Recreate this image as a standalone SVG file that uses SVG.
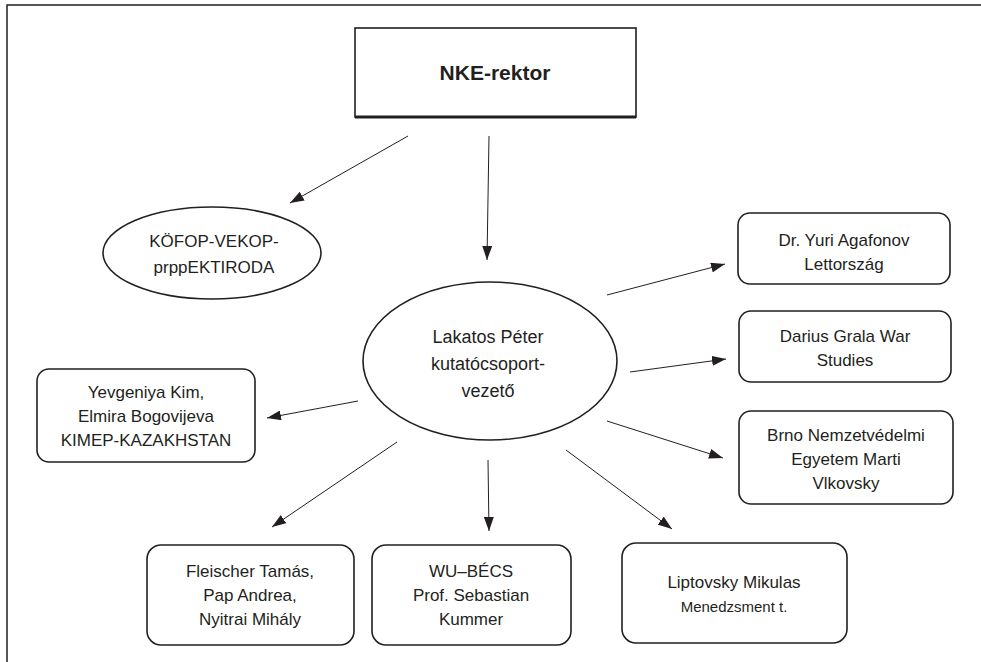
<svg xmlns="http://www.w3.org/2000/svg" width="981" height="662" viewBox="0 0 981 662">
<defs>
<style>
.box{fill:#fff;stroke:#231f20;stroke-width:1.6}
.t{font-family:"Liberation Sans",Arial,sans-serif;font-size:17px;fill:#231f20;text-anchor:middle}
.c{stroke:#231f20;stroke-width:1;fill:none;marker-end:url(#ah)}
</style>
<marker id="ah" markerUnits="userSpaceOnUse" markerWidth="14" markerHeight="10" refX="14" refY="5" orient="auto" viewBox="0 0 14 10">
<path d="M0,0 L14,5 L0,10 z" fill="#231f20"/>
</marker>
</defs>
<rect width="981" height="662" fill="#fff"/>
<path d="M7,662 V5 H981" fill="none" stroke="#231f20" stroke-width="1.5"/>

<g id="connectors">
<line class="c" x1="408" y1="136" x2="290" y2="203"/>
<line class="c" x1="489" y1="136" x2="487" y2="260"/>
<line class="c" x1="607" y1="295" x2="725" y2="264"/>
<line class="c" x1="630" y1="372" x2="726" y2="359"/>
<line class="c" x1="607" y1="421" x2="723" y2="458"/>
<line class="c" x1="358" y1="401" x2="267" y2="418"/>
<line class="c" x1="397" y1="442" x2="272" y2="527"/>
<line class="c" x1="488" y1="460" x2="489" y2="531"/>
<line class="c" x1="566" y1="450" x2="672" y2="529"/>
</g>

<g id="nke">
<rect class="box" x="355" y="28" width="281" height="89" stroke-width="2"/>
<line x1="355" y1="117" x2="636" y2="117" stroke="#231f20" stroke-width="3"/>
<text class="t" x="495" y="80" style="font-size:21px;font-weight:bold">NKE-rektor</text>
</g>

<g id="kofop">
<ellipse class="box" cx="212" cy="253" rx="109" ry="46"/>
<text class="t" x="214" y="247">KÖFOP-VEKOP-</text>
<text class="t" x="214" y="273">prppEKTIRODA</text>
</g>

<g id="lakatos">
<ellipse class="box" cx="490" cy="361" rx="127" ry="79"/>
<text class="t" x="488" y="343" style="font-size:18px">Lakatos Péter</text>
<text class="t" x="488" y="370" style="font-size:18px">kutatócsoport-</text>
<text class="t" x="488" y="397" style="font-size:18px">vezető</text>
</g>

<g id="agafonov">
<rect class="box" x="738" y="213" width="212" height="71" rx="12"/>
<text class="t" x="844" y="246">Dr. Yuri Agafonov</text>
<text class="t" x="844" y="270">Lettország</text>
</g>

<g id="grala">
<rect class="box" x="739" y="311" width="212" height="71" rx="12"/>
<text class="t" x="845" y="342">Darius Grala War</text>
<text class="t" x="845" y="366">Studies</text>
</g>

<g id="brno">
<rect class="box" x="739" y="411" width="214" height="93" rx="12"/>
<text class="t" x="846" y="441">Brno Nemzetvédelmi</text>
<text class="t" x="846" y="465">Egyetem Marti</text>
<text class="t" x="846" y="489">Vlkovsky</text>
</g>

<g id="kim">
<rect class="box" x="37" y="369" width="218" height="93" rx="12"/>
<text class="t" x="146" y="398">Yevgeniya Kim,</text>
<text class="t" x="146" y="422">Elmira Bogovijeva</text>
<text class="t" x="146" y="446">KIMEP-KAZAKHSTAN</text>
</g>

<g id="fleischer">
<rect class="box" x="147" y="545" width="207" height="100" rx="14"/>
<text class="t" x="250" y="577">Fleischer Tamás,</text>
<text class="t" x="250" y="601">Pap Andrea,</text>
<text class="t" x="250" y="625">Nyitrai Mihály</text>
</g>

<g id="wu">
<rect class="box" x="372" y="545" width="199" height="100" rx="14"/>
<text class="t" x="471" y="577">WU–BÉCS</text>
<text class="t" x="471" y="601">Prof. Sebastian</text>
<text class="t" x="471" y="625">Kummer</text>
</g>

<g id="liptovsky">
<rect class="box" x="622" y="543" width="225" height="100" rx="14"/>
<text class="t" x="734" y="588">Liptovsky Mikulas</text>
<text class="t" x="734" y="612" style="font-size:15px">Menedzsment t.</text>
</g>
</svg>
